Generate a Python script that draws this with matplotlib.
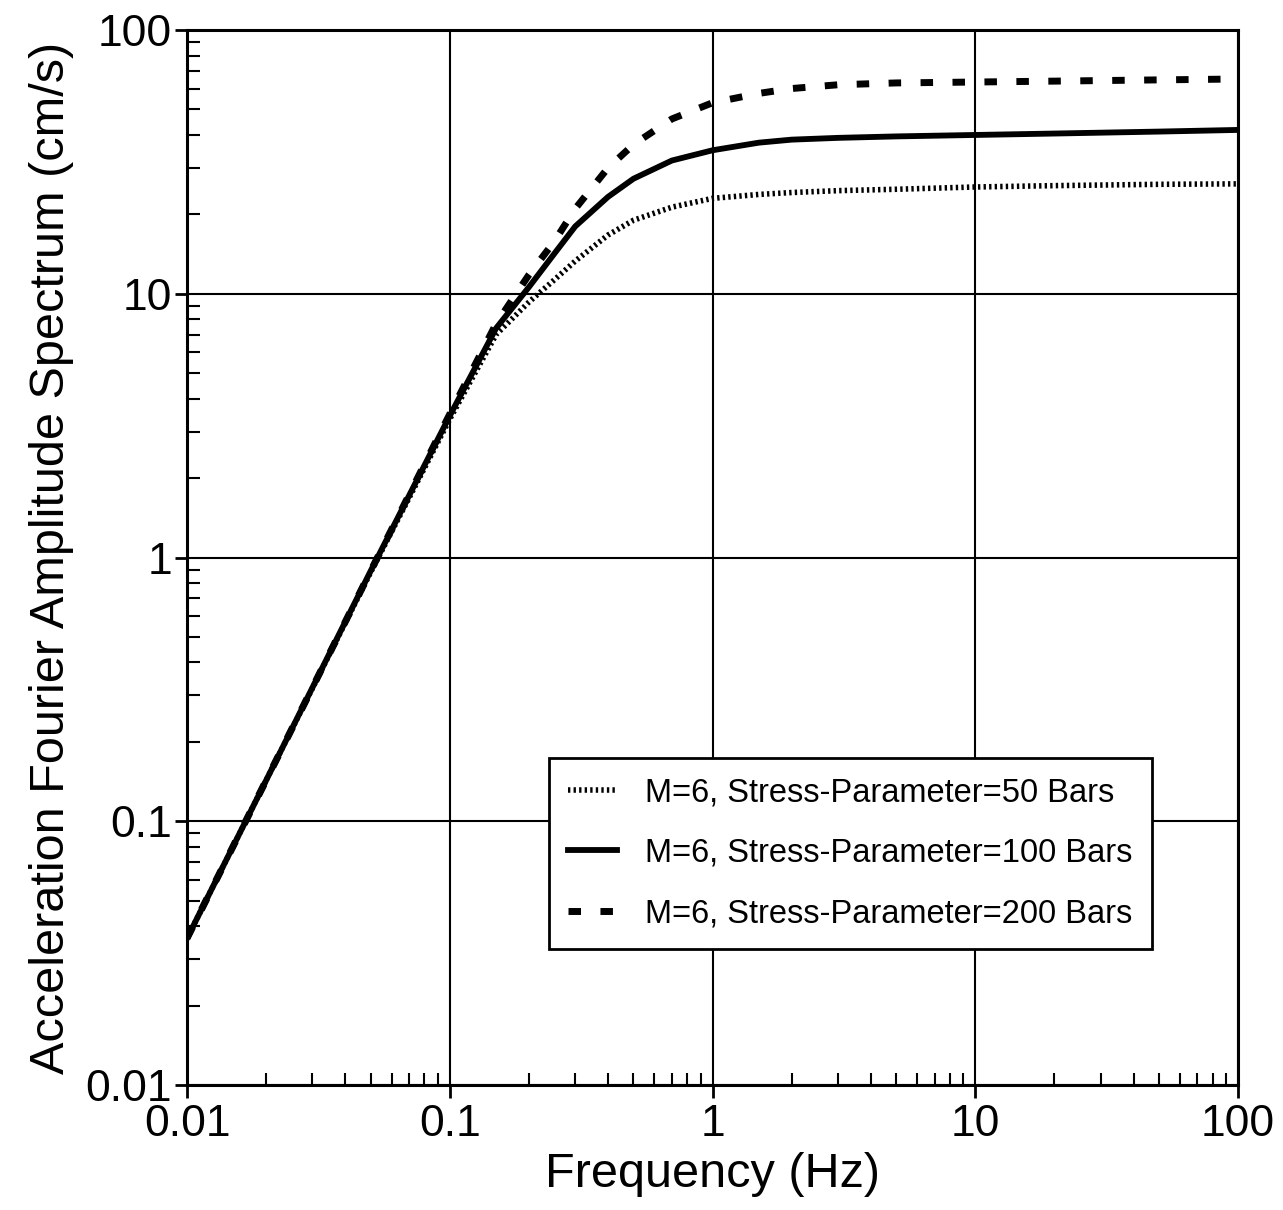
import matplotlib
matplotlib.use('Agg')
import matplotlib.pyplot as plt
from matplotlib.ticker import LogLocator, NullFormatter

plt.rcParams['font.family'] = ['Liberation Sans', 'DejaVu Sans']
plt.rcParams['lines.scale_dashes'] = False

# frequencias (Hz)
freq = [0.01, 0.02, 0.05, 0.1, 0.15, 0.2, 0.25, 0.3, 0.4, 0.5, 0.7, 1.0,
        1.5, 2.0, 3.0, 5.0, 10.0, 20.0, 50.0, 100.0]

# espectros (cm/s)
fas_50 = [0.036, 0.143, 0.88, 3.35, 7.0, 9.3, 11.3, 13.3, 16.7, 19.0, 21.3, 23.0,
          23.8, 24.2, 24.6, 24.9, 25.4, 25.7, 26.0, 26.1]
fas_100 = [0.036, 0.143, 0.89, 3.45, 7.4, 10.6, 14.2, 18.0, 23.3, 27.3, 32.0, 35.0,
           37.4, 38.4, 39.0, 39.5, 40.0, 40.5, 41.2, 41.8]
fas_200 = [0.036, 0.143, 0.89, 3.5, 7.7, 11.8, 15.8, 21.0, 30.0, 36.8, 46.0, 53.0,
           57.5, 60.0, 62.0, 63.0, 63.5, 64.0, 64.7, 65.2]

labels = ['M=6, Stress-Parameter=50 Bars',
          'M=6, Stress-Parameter=100 Bars',
          'M=6, Stress-Parameter=200 Bars']

fig = plt.figure(figsize=(12.83, 12.10), dpi=100)
ax = fig.add_axes([0.1458, 0.1033, 0.8192, 0.8719])

ax.plot(freq, fas_50, color='black', linewidth=4, linestyle=(0, (1.7, 2.3)),
        dash_capstyle='butt', label=labels[0])
ax.plot(freq, fas_100, color='black', linewidth=4.2, linestyle='-', label=labels[1])
ax.plot(freq, fas_200, color='black', linewidth=5, linestyle=(0, (9, 14)),
        dash_capstyle='butt', label=labels[2])

ax.set_xscale('log')
ax.set_yscale('log')
ax.set_xlim(0.01, 100)
ax.set_ylim(0.01, 100)

ax.set_xticks([0.01, 0.1, 1, 10, 100])
ax.set_xticklabels(['0.01', '0.1', '1', '10', '100'])
ax.set_yticks([0.01, 0.1, 1, 10, 100])
ax.set_yticklabels(['0.01', '0.1', '1', '10', '100'])
ax.xaxis.set_minor_locator(LogLocator(base=10, subs=range(2, 10), numticks=20))
ax.yaxis.set_minor_locator(LogLocator(base=10, subs=range(2, 10), numticks=20))
ax.xaxis.set_minor_formatter(NullFormatter())
ax.yaxis.set_minor_formatter(NullFormatter())

ax.tick_params(which='major', direction='out', length=9, width=2, labelsize=32, pad=2)
ax.tick_params(axis='x', which='major', pad=5)
ax.tick_params(which='minor', direction='in', length=9, width=1.5)
ax.tick_params(top=False, right=False, which='both')

ax.grid(True, which='major', color='black', linewidth=1.5)
for s in ax.spines.values():
    s.set_linewidth(2.2)

ax.set_xlabel('Frequency (Hz)', fontsize=35, labelpad=5)
ax.set_ylabel('Acceleration Fourier Amplitude Spectrum (cm/s)', fontsize=35, labelpad=8)

leg = ax.legend(loc='upper left', bbox_to_anchor=(0.344, 0.310), fontsize=23.5,
                frameon=True, fancybox=False, edgecolor='black', framealpha=1,
                handlelength=1.5, handletextpad=0.85, borderpad=0.6, labelspacing=0.9,
                borderaxespad=0)
leg.get_frame().set_linewidth(2)

plt.savefig('out.png', dpi=100)
